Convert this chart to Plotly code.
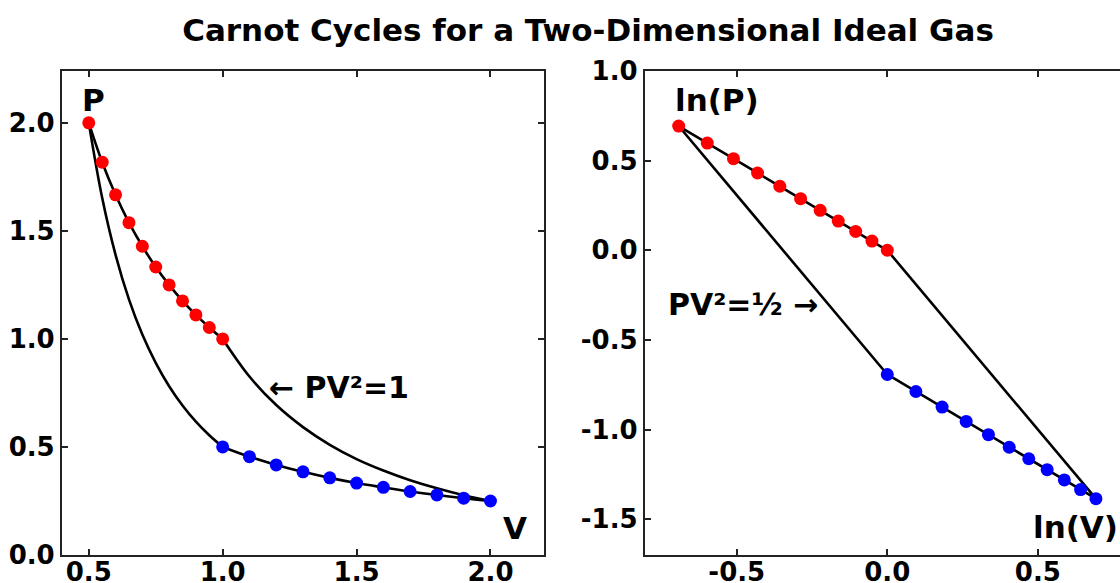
import plotly.graph_objects as go
from plotly.subplots import make_subplots

# ---- data ----
V_hot = [0.50, 0.55, 0.60, 0.65, 0.70, 0.75, 0.80, 0.85, 0.90, 0.95, 1.00]
P_hot = [2.000, 1.818, 1.667, 1.538, 1.429, 1.333, 1.250, 1.176, 1.111, 1.053, 1.000]
V_cold = [1.0, 1.1, 1.2, 1.3, 1.4, 1.5, 1.6, 1.7, 1.8, 1.9, 2.0]
P_cold = [0.500, 0.455, 0.417, 0.385, 0.357, 0.333, 0.313, 0.294, 0.278, 0.263, 0.250]
P_adia1 = [1.000, 0.826, 0.694, 0.592, 0.510, 0.444, 0.391, 0.346, 0.309, 0.277, 0.250]  # PV^2 = 1 on V_cold
P_adia2 = [2.000, 1.653, 1.389, 1.183, 1.020, 0.889, 0.781, 0.692, 0.617, 0.554, 0.500]  # PV^2 = 1/2 on V_hot

lnV_hot = [-0.693, -0.598, -0.511, -0.431, -0.357, -0.288, -0.223, -0.163, -0.105, -0.051, 0.000]
lnP_hot = [0.693, 0.598, 0.511, 0.431, 0.357, 0.288, 0.223, 0.163, 0.105, 0.051, 0.000]
lnV_cold = [0.000, 0.095, 0.182, 0.262, 0.336, 0.405, 0.470, 0.531, 0.588, 0.642, 0.693]
lnP_cold = [-0.693, -0.788, -0.875, -0.955, -1.029, -1.099, -1.163, -1.224, -1.281, -1.335, -1.386]
lnV_adia1 = [0.000, 0.693]
lnP_adia1 = [0.000, -1.386]
lnV_adia2 = [-0.693, 0.000]
lnP_adia2 = [0.693, -0.693]

FONT = "DejaVu Sans"
RED = "#ff0000"
BLUE = "#0000ff"
FRAME = "#222222"

fig = make_subplots(rows=1, cols=2)

def line(x, y, row, col, shape="linear"):
    fig.add_trace(go.Scatter(x=x, y=y, mode="lines", line=dict(color="black", width=2.6, shape=shape),
                             showlegend=False, hoverinfo="skip"), row=row, col=col)

def pts(x, y, color, row, col, shape="linear"):
    fig.add_trace(go.Scatter(x=x, y=y, mode="lines+markers",
                             line=dict(color="black", width=2.6, shape=shape),
                             marker=dict(color=color, size=13, line=dict(width=0)),
                             showlegend=False), row=row, col=col)

# left: P-V
line(V_cold, P_adia1, 1, 1, "spline")
line(V_hot, P_adia2, 1, 1, "spline")
pts(V_hot, P_hot, RED, 1, 1, "spline")
pts(V_cold, P_cold, BLUE, 1, 1, "spline")

# right: ln P - ln V
line(lnV_adia1, lnP_adia1, 1, 2)
line(lnV_adia2, lnP_adia2, 1, 2)
pts(lnV_hot, lnP_hot, RED, 1, 2)
pts(lnV_cold, lnP_cold, BLUE, 1, 2)

tickfont = dict(family=FONT, size=26, color="black", weight="bold")
common = dict(showgrid=False, zeroline=False, showline=True, linecolor=FRAME, linewidth=2.2,
              ticks="inside", ticklen=6, tickwidth=1.5, tickcolor=FRAME, tickfont=tickfont,
              automargin=False)

fig.update_xaxes(common, row=1, col=1, range=[0.4, 2.2], tickvals=[0.5, 1.0, 1.5, 2.0],
                 ticktext=["0.5", "1.0", "1.5", "2.0"], mirror="allticks", domain=[0, 0.4556],
                 ticklabelstandoff=-7)
fig.update_yaxes(common, row=1, col=1, range=[0, 2.24], tickvals=[0.0, 0.5, 1.0, 1.5, 2.0],
                 ticktext=["0.0", "0.5", "1.0", "1.5", "2.0"], mirror="allticks")
fig.update_xaxes(common, row=1, col=2, range=[-0.805, 0.773], tickvals=[-0.5, 0.0, 0.5],
                 ticktext=["-0.5", "0.0", "0.5"], mirror="allticks", domain=[0.551, 1.0],
                 ticklabelstandoff=-7)
fig.update_yaxes(common, row=1, col=2, range=[-1.7, 1.0], tickvals=[-1.5, -1.0, -0.5, 0.0, 0.5, 1.0],
                 ticktext=["-1.5", "-1.0", "-0.5", "0.0", "0.5", "1.0"], mirror=False)

lab = dict(family=FONT, size=31, color="black", weight="bold")
ann = dict(family=FONT, size=30, color="black", weight="bold")
annotations = [
    dict(text="P", xref="x", yref="y", x=0.519, y=2.108, font=lab, showarrow=False),
    dict(text="V", xref="x", yref="y", x=2.091, y=0.126, font=lab, showarrow=False),
    dict(text="\u2190 PV\u00b2=1", xref="x", yref="y", x=1.167, y=0.775, xanchor="left",
         font=ann, showarrow=False),
    dict(text="ln(P)", xref="x2", yref="y2", x=-0.566, y=0.837, font=lab, showarrow=False),
    dict(text="ln(V)", xref="paper", yref="y2", x=1.0, y=-1.546, xanchor="right", font=lab,
         showarrow=False),
    dict(text="PV\u00b2=\u00bd \u2192", xref="x2", yref="y2", x=-0.224, y=-0.301, xanchor="right",
         font=ann, showarrow=False),
]

fig.update_layout(width=1120, height=583, margin=dict(l=62, r=0, t=71, b=28, autoexpand=False),
                  title=dict(text="Carnot Cycles for a Two-Dimensional Ideal Gas",
                             xref="container", yref="container", x=588 / 1120, y=1 - 30 / 583,
                             xanchor="center", yanchor="middle",
                             font=dict(family=FONT, size=31, color="black", weight="bold")),
                  plot_bgcolor="white", paper_bgcolor="white", annotations=annotations,
                  showlegend=False)

fig.write_html("out.html", config={"displayModeBar": False},
               post_script="document.body.style.margin='0';document.body.style.overflow='hidden';")
